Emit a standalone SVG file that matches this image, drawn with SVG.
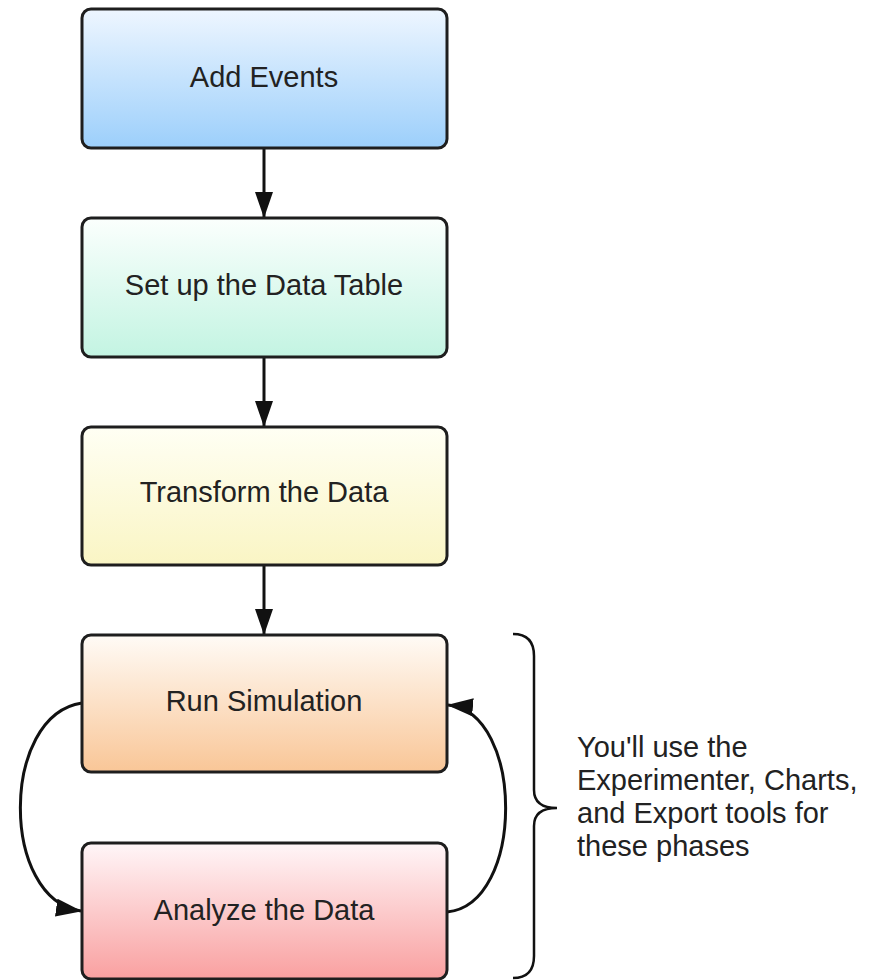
<svg xmlns="http://www.w3.org/2000/svg" width="870" height="980" viewBox="0 0 870 980">
<style>
.box{stroke:#1e1e1e;stroke-width:3}
.lbl{font-family:"Liberation Sans",Arial,sans-serif;font-size:29px;fill:#222;text-anchor:middle}
.note{font-family:"Liberation Sans",Arial,sans-serif;font-size:29px;fill:#222}
.conn{fill:none;stroke:#111;stroke-width:3}
</style>
<defs>
<linearGradient id="g1" x1="0" y1="0" x2="0" y2="1"><stop offset="0" stop-color="#eef6ff"/><stop offset="1" stop-color="#9ccffb"/></linearGradient>
<linearGradient id="g2" x1="0" y1="0" x2="0" y2="1"><stop offset="0" stop-color="#fbfffd"/><stop offset="1" stop-color="#c3f4e2"/></linearGradient>
<linearGradient id="g3" x1="0" y1="0" x2="0" y2="1"><stop offset="0" stop-color="#fffff4"/><stop offset="1" stop-color="#faf5c4"/></linearGradient>
<linearGradient id="g4" x1="0" y1="0" x2="0" y2="1"><stop offset="0" stop-color="#fffbf6"/><stop offset="1" stop-color="#f9c697"/></linearGradient>
<linearGradient id="g5" x1="0" y1="0" x2="0" y2="1"><stop offset="0" stop-color="#fff6f8"/><stop offset="1" stop-color="#f9a0a0"/></linearGradient>
<marker id="ah" markerUnits="userSpaceOnUse" markerWidth="26" markerHeight="18" viewBox="0 0 26 18" refX="25" refY="9" orient="auto">
<path d="M0,0 L26,9 L0,18 Z" fill="#111"/>
</marker>
</defs>
<g id="connectors">
<line class="conn" x1="264" y1="149" x2="264" y2="217" marker-end="url(#ah)"/>
<line class="conn" x1="264" y1="358" x2="264" y2="426" marker-end="url(#ah)"/>
<line class="conn" x1="264" y1="566" x2="264" y2="634" marker-end="url(#ah)"/>
<path class="conn" d="M82,703 C0,715 0,900 81,911" marker-end="url(#ah)"/>
<path class="conn" d="M447,912 C525,905 525,712 448,705" marker-end="url(#ah)"/>
</g>
<g id="n1"><rect class="box" x="82" y="9" width="365" height="139" rx="9" fill="url(#g1)"/><text class="lbl" x="264" y="87">Add Events</text></g>
<g id="n2"><rect class="box" x="82" y="218" width="365" height="139" rx="9" fill="url(#g2)"/><text class="lbl" x="264" y="295">Set up the Data Table</text></g>
<g id="n3"><rect class="box" x="82" y="427" width="365" height="138" rx="9" fill="url(#g3)"/><text class="lbl" x="264" y="502">Transform the Data</text></g>
<g id="n4"><rect class="box" x="82" y="635" width="365" height="137" rx="9" fill="url(#g4)"/><text class="lbl" x="264" y="711">Run Simulation</text></g>
<g id="n5"><rect class="box" x="82" y="843" width="365" height="136" rx="9" fill="url(#g5)"/><text class="lbl" x="264" y="920">Analyze the Data</text></g>
<g id="brace">
<path d="M513,634 Q534,634 534,656 L534,790 Q534,808 557,808 Q534,808 534,826 L534,956 Q534,978 513,978" fill="none" stroke="#111" stroke-width="2.5"/>
</g>
<g id="note">
<text class="note" x="577" y="757">You'll use the</text>
<text class="note" x="577" y="790">Experimenter, Charts,</text>
<text class="note" x="577" y="823">and Export tools for</text>
<text class="note" x="577" y="856">these phases</text>
</g>
</svg>
